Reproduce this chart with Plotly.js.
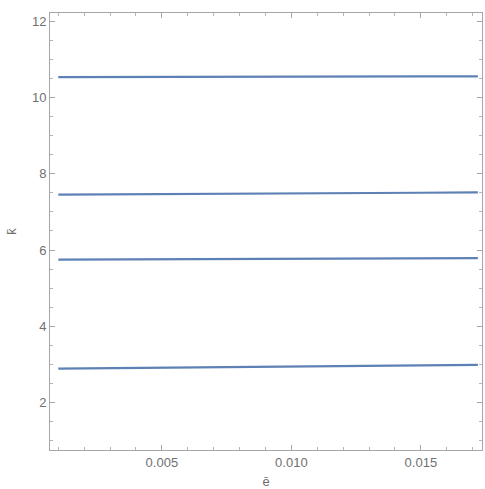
<!DOCTYPE html>
<html>
<head>
<meta charset="utf-8">
<script src="https://cdn.plot.ly/plotly-3.0.1.min.js"></script>
<style>html,body{margin:0;padding:0;background:#fff;}#chart{width:485px;height:489px;}</style>
</head>
<body>
<div id="chart"></div>
<script>
const eBar = [0.001, 0.005, 0.010, 0.015, 0.0172];
const k1 = [2.89, 2.91, 2.94, 2.97, 2.99];
const k2 = [5.75, 5.76, 5.77, 5.78, 5.79];
const k3 = [7.45, 7.46, 7.48, 7.50, 7.51];
const k4 = [10.53, 10.54, 10.54, 10.55, 10.55];
const series = [k1, k2, k3, k4];
const xTickVals = [0.005, 0.010, 0.015];
const xTickText = ["0.005", "0.010", "0.015"];
const yTickVals = [2, 4, 6, 8, 10, 12];

const traces = series.map(s => ({
  x: eBar, y: s, type: 'scatter', mode: 'lines',
  line: {color: '#5E81B5', width: 2.2}, showlegend: false, hoverinfo: 'skip'
}));

const fnt = {family: 'Liberation Sans, Arial, sans-serif', size: 13, color: '#707070'};
const axisCommon = {
  showgrid: false, zeroline: false, showline: true, linecolor: '#a6a6a6', linewidth: 1,
  mirror: 'ticks', ticks: 'inside', ticklen: 5, tickcolor: '#a6a6a6', tickwidth: 1,
  tickfont: fnt
};

const layout = {
  width: 485, height: 489,
  margin: {l: 50, r: 3, t: 13, b: 39},
  paper_bgcolor: '#fff', plot_bgcolor: '#fff',
  xaxis: Object.assign({}, axisCommon, {
    range: [0.00068, 0.01736],
    tickvals: xTickVals, ticktext: xTickText,
    minor: {dtick: 0.001, tick0: 0, ticks: 'inside', ticklen: 3, tickcolor: '#b5b5b5'},
    title: {text: 'ē', standoff: 10, font: fnt}
  }),
  yaxis: Object.assign({}, axisCommon, {
    range: [0.76, 12.21],
    tickvals: yTickVals,
    minor: {dtick: 0.5, tick0: 0, ticks: 'inside', ticklen: 3, tickcolor: '#b5b5b5'},
    title: {text: 'k̄', standoff: 12, font: fnt}
  })
};

Plotly.newPlot('chart', traces, layout, {staticPlot: true, displayModeBar: false});
</script>
</body>
</html>
